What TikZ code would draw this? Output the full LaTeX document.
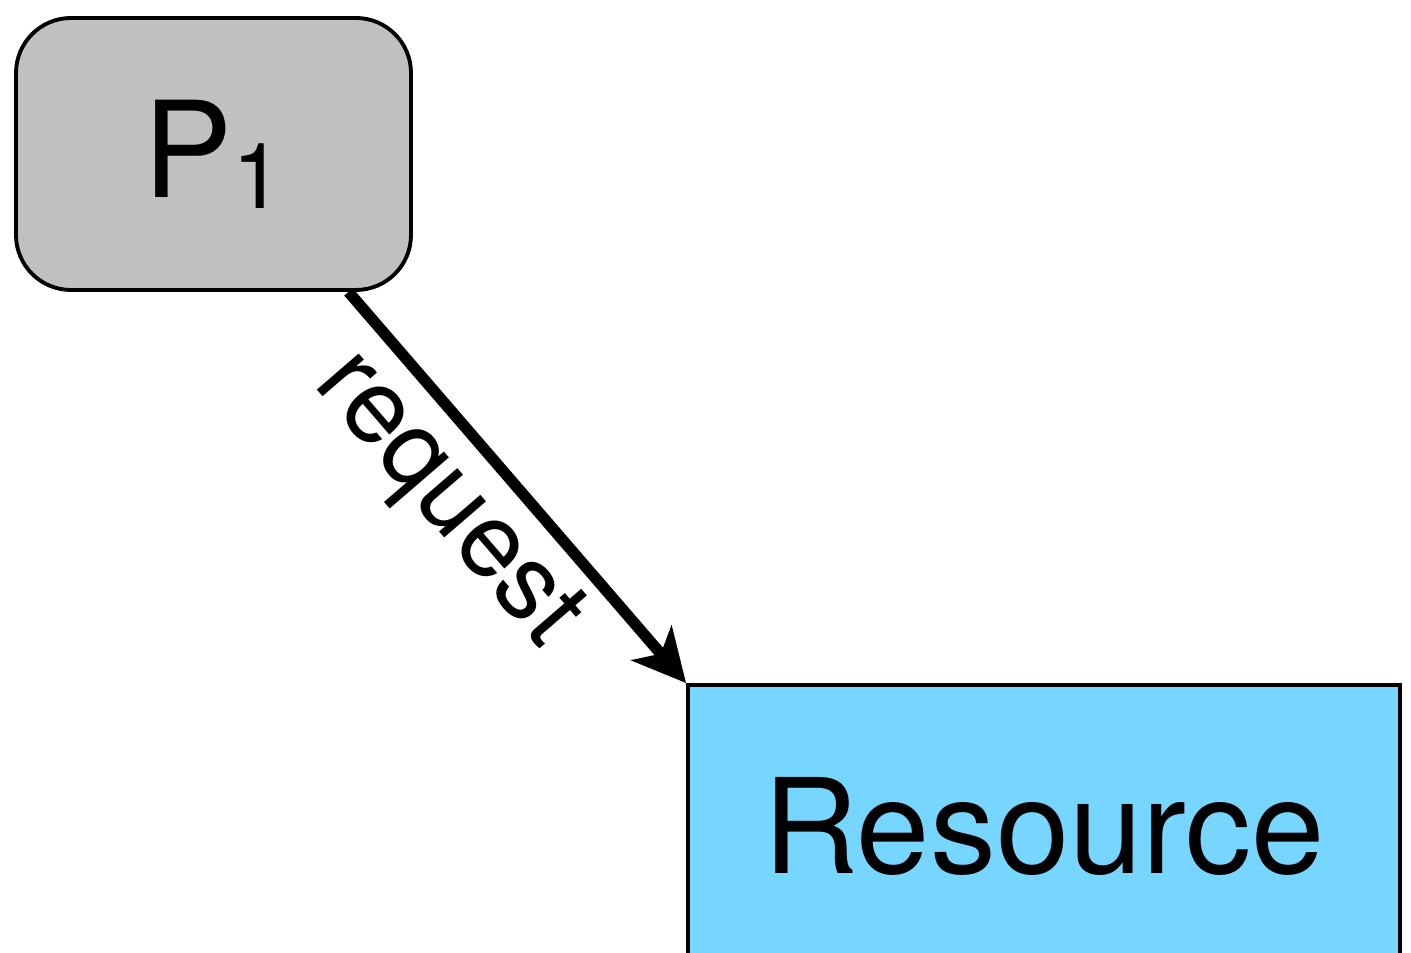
\documentclass[tikz,border=0pt]{standalone}
\usepackage{fontspec}
\setmainfont{TeX Gyre Heros}
\usetikzlibrary{arrows.meta,positioning}
\definecolor{procgray}{HTML}{C0C0C0}
\definecolor{resblue}{HTML}{76D6FF}
\tikzstyle{ndproc} = [draw, line width=1.1pt, fill=procgray, shape=rectangle, rounded corners=0.55cm, minimum width=3.95cm, minimum height=2.72cm, inner sep=0pt, text=black]
\tikzstyle{ndres} = [draw, line width=1.1pt, fill=resblue, shape=rectangle, minimum width=7.12cm, minimum height=2.82cm, inner sep=0pt, text=black]
\tikzstyle{arreq} = [style={-{Stealth[length=15pt,width=15pt,inset=4pt]},line width=3.2pt,black}]

\begin{document}
\begin{tikzpicture}[scale=1, transform shape]
	\clip (0,0) rectangle (14.11,9.53);
	\node[ndproc] (p1) at (2.135,7.99) {\fontsize{38}{40}\selectfont P\raisebox{-0.11cm}{\fontsize{26}{26}\selectfont 1}};
	\node[ndres] (res) at (10.44,1.27) {\fontsize{37.5}{40}\selectfont Resource};
	\draw[arreq] ([xshift=1.35cm]p1.south) to node[pos=0.43, below, sloped, font=\fontsize{30}{32}\selectfont] {request} (res.north west);
\end{tikzpicture}
\end{document}
